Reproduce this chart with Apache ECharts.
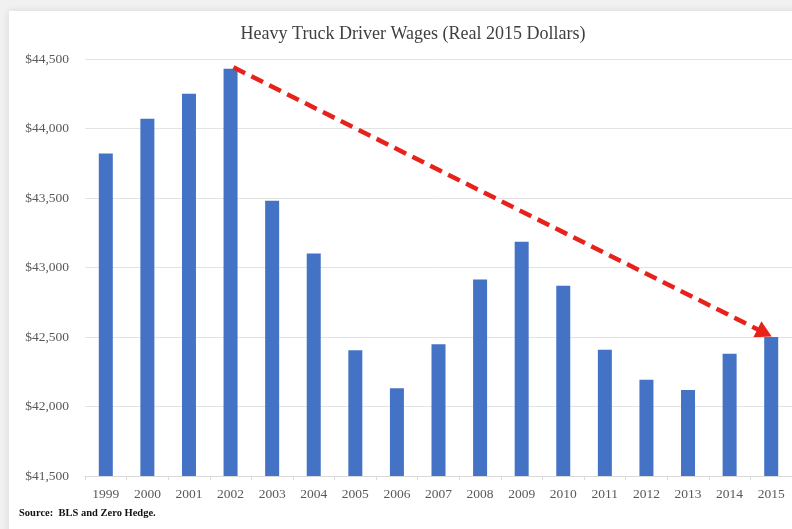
<!DOCTYPE html>
<html>
<head>
<meta charset="utf-8">
<script src="https://cdn.jsdelivr.net/npm/echarts@6/dist/echarts.min.js"></script>
<style>
  html, body { margin: 0; padding: 0; background: #f1f1f1; }
  #wrap { position: relative; width: 792px; height: 529px; overflow: hidden; }
  #card { position: absolute; left: 9px; top: 11px; width: 800px; height: 540px; background: #fff;
          box-shadow: 0 0 8px rgba(0,0,0,0.10); }
  #chart { position: absolute; left: 0; top: 0; width: 792px; height: 529px; }
</style>
</head>
<body>
<div id="wrap">
  <div id="card"></div>
  <div id="chart"></div>
</div>
<script>
const titleText = 'Heavy Truck Driver Wages (Real 2015 Dollars)';
const sourceText = 'Source:  BLS and Zero Hedge.';
const years = ['1999','2000','2001','2002','2003','2004','2005','2006','2007','2008','2009','2010','2011','2012','2013','2014','2015'];
const wages = [43820, 44070, 44250, 44430, 43480, 43100, 42405, 42132, 42447, 42913, 43185, 42868, 42408, 42192, 42118, 42380, 42500];
const yTicks = [41500, 42000, 42500, 43000, 43500, 44000, 44500];
// trend arrow endpoints: [category position (index), value]
const arrowStart = [3.07, 44440];
const arrowEnd = [15.84, 42530];

const chart = echarts.init(document.getElementById('chart'), null, { renderer: 'canvas' });
const serif = '"Liberation Serif", "DejaVu Serif", serif';
chart.setOption({
  animation: false,
  title: {
    text: titleText,
    left: 408, top: 20, textAlign: 'center',
    textStyle: { fontFamily: serif, fontSize: 18, fontWeight: 'normal', color: '#3f3f3f' }
  },
  graphic: [{
    type: 'text', left: 19, top: 508,
    style: { text: sourceText, font: 'bold 10.5px ' + serif, fill: '#111' }
  }],
  grid: { left: 85, right: 0, top: 59, bottom: 53, containLabel: false },
  xAxis: [{
    type: 'category', data: years,
    axisLine: { lineStyle: { color: '#d9d9d9', width: 1 } },
    axisTick: { show: true, alignWithLabel: false, length: 4, lineStyle: { color: '#d9d9d9' } },
    axisLabel: { fontFamily: serif, fontSize: 13.5, color: '#595959', margin: 11 }
  }, {
    type: 'value', min: -0.5, max: years.length - 0.5, show: false
  }],
  yAxis: {
    type: 'value', min: yTicks[0], max: yTicks[yTicks.length - 1], interval: 500,
    axisLine: { show: false }, axisTick: { show: false },
    splitLine: { lineStyle: { color: '#e3e3e3', width: 1 } },
    axisLabel: {
      fontFamily: serif, fontSize: 13.5, color: '#595959', margin: 16,
      formatter: v => '$' + v.toLocaleString('en-US')
    }
  },
  series: [{
    type: 'bar', data: wages, barWidth: 14,
    itemStyle: { color: '#4472c4' }
  }, {
    type: 'line', xAxisIndex: 1, data: [], silent: true,
    markLine: {
      silent: true,
      symbol: ['none', 'triangle'], symbolSize: [18, 16],
      label: { show: false },
      lineStyle: { color: '#e8221b', width: 4.5, type: [13, 7], opacity: 1 },
      itemStyle: { color: '#e8221b' },
      data: [[{ coord: arrowStart }, { coord: arrowEnd }]]
    }
  }]
});
</script>
</body>
</html>
